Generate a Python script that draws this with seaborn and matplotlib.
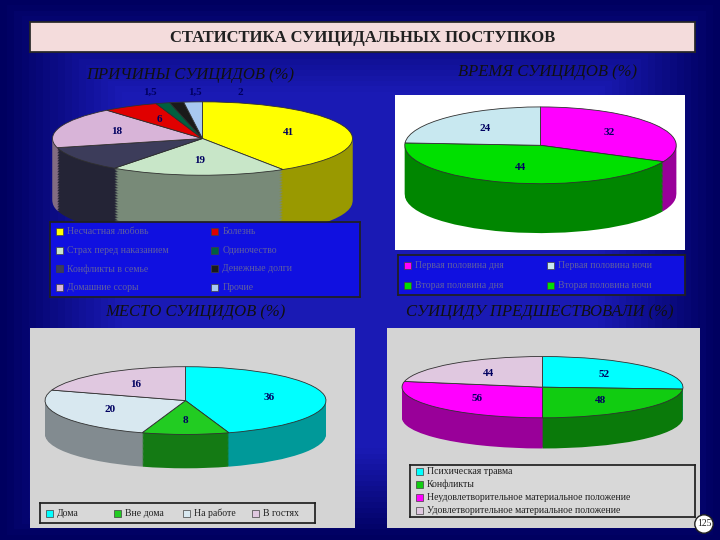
import numpy as np
import matplotlib.pyplot as plt
import seaborn as sns
from matplotlib.patches import Rectangle
import matplotlib.colors as mcolors

sns.set_theme(style="white")
plt.rcParams['font.family'] = ['Liberation Serif', 'DejaVu Serif']

# ---------- data ----------
cause_labels = ["Несчастная любовь", "Страх перед наказанием", "Конфликты в семье",
                "Домашние ссоры", "Болезнь", "Одиночество", "Денежные долги", "Прочие"]
cause_values = [41, 19, 11, 18, 6, 1.5, 1.5, 2]
cause_text = ["41", "19", "", "18", "6", "1,5", "1,5", "2"]
cause_colors = ["#ffff00", "#c8e6c8", "#3c3c5a", "#d8b4d8", "#e00000", "#006040", "#1a1a1a", "#a8c8f0"]

time_labels = ["Первая половина дня", "Вторая половина дня",
               "Первая половина ночи", "Вторая половина ночи"]
time_values = [32, 44, 24]
time_colors = ["#ff00ff", "#00e000", "#c8e8f0"]

place_labels = ["Дома", "Вне дома", "На работе", "В гостях"]
place_values = [36, 8, 20, 16]
place_colors = ["#00ffff", "#22cc22", "#d8e8f0", "#e0c8e0"]

pre_labels = ["Психическая травма", "Конфликты",
              "Неудовлетворительное материальное положение",
              "Удовлетворительное материальное положение"]
pre_values = [52, 48, 56, 44]
pre_colors = ["#00ffff", "#11cc11", "#ff00ff", "#e0c8e0"]

W, H = 720, 540
fig = plt.figure(figsize=(7.2, 5.4), dpi=100)
fig.patch.set_facecolor("#1818b0")


def px_axes(x, y, w, h):
    return fig.add_axes([x / W, 1 - (y + h) / H, w / W, h / H])


# background with darker edges
bg = px_axes(0, 0, W, H)
yy, xx = np.mgrid[0:1:100j, 0:1:100j]
edge = np.minimum(np.minimum(xx, 1 - xx), np.minimum(yy, 1 - yy))
bg.imshow(np.clip(edge * 6, 0, 1), cmap=mcolors.LinearSegmentedColormap.from_list(
    "b", ["#000060", "#1a1ab4"]), extent=[0, 1, 0, 1], aspect="auto")
bg.axis("off")

tb = px_axes(30, 22, 665, 30)
tb.set_facecolor("#f4dcdc")
tb.set_xticks([]); tb.set_yticks([])
tb.text(0.5, 0.45, "СТАТИСТИКА СУИЦИДАЛЬНЫХ ПОСТУПКОВ", ha="center", va="center",
        fontsize=12, fontweight="bold", color="#202020")

for txt, x, y in [("ПРИЧИНЫ СУИЦИДОВ (%)", 190, 75), ("ВРЕМЯ СУИЦИДОВ (%)", 548, 72),
                  ("МЕСТО СУИЦИДОВ (%)", 195, 312), ("СУИЦИДУ ПРЕДШЕСТВОВАЛИ (%)", 540, 312)]:
    fig.text(x / W, 1 - y / H, txt, ha="center", va="center", fontsize=12,
             style="italic", color="#101010")

# marble / white panels
for x, y, w, h, c in [(395, 95, 290, 155, "#ffffff"), (30, 328, 325, 200, "#d4d4d4"),
                      (387, 328, 313, 200, "#d4d4d4")]:
    a = px_axes(x, y, w, h)
    a.set_facecolor(c)
    a.set_xticks([]); a.set_yticks([])
    for s in a.spines.values():
        s.set_visible(False)


def pie3d(rect, values, colors, texts, start, depth=0.35, ratio=0.35, tcolor="#000060"):
    ax = px_axes(*rect)
    dark = [tuple(np.array(mcolors.to_rgb(c)) * 0.6) for c in colors]
    for d in np.linspace(depth, 0.01, 40):
        ax.pie(values, colors=dark, startangle=start, counterclock=False,
               center=(0, -d / ratio), wedgeprops=dict(linewidth=0))
    wedges, _ = ax.pie(values, colors=colors, startangle=start, counterclock=False,
                       wedgeprops=dict(linewidth=0.6, edgecolor="#303030"))
    small = [i for i, v in enumerate(values) if v / sum(values) < 0.03]
    for i, (wd, t) in enumerate(zip(wedges, texts)):
        ang = np.deg2rad((wd.theta1 + wd.theta2) / 2)
        if i in small:
            k = small.index(i)
            ax.text(-0.35 + 0.3 * k, 1.25, t, ha="center", va="center",
                    fontsize=8, fontweight="bold", color=tcolor, clip_on=False)
        else:
            ax.text(0.6 * np.cos(ang), 0.6 * np.sin(ang), t, ha="center", va="center",
                    fontsize=8, fontweight="bold", color=tcolor)
    ax.set_aspect("auto")
    ax.set_xlim(-1.05, 1.05)
    ax.set_ylim(-1.05 - depth / ratio, 1.05)
    ax.axis("off")
    return ax


pie3d((45, 100, 315, 140), cause_values, cause_colors, cause_text, 90, depth=0.6)
pie3d((398, 105, 285, 130), time_values, time_colors, ["32", "44", "24"], 90, depth=0.45)
pie3d((38, 365, 295, 105), place_values, place_colors, ["36", "8", "20", "16"], 90, depth=0.35)
pie3d((395, 355, 295, 95), pre_values, pre_colors, ["52", "48", "56", "44"], 90, depth=0.35)


def legend_box(rect, labels, colors, ncol, fc, tc, fs=7):
    ax = px_axes(*rect)
    ax.set_facecolor(fc)
    ax.set_xticks([]); ax.set_yticks([])
    for s in ax.spines.values():
        s.set_color("#202020")
    nrow = int(np.ceil(len(labels) / ncol))
    sw = 7  # swatch size in pixels
    for i, (lab, c) in enumerate(zip(labels, colors)):
        col, row = i // nrow, i % nrow
        x0 = 0.02 + col / ncol
        y0 = 1 - (row + 0.5) / nrow
        ax.add_patch(Rectangle((x0, y0 - sw / 2 / rect[3]), sw / rect[2], sw / rect[3],
                               facecolor=c, edgecolor="#404040", lw=0.5, transform=ax.transAxes))
        ax.text(x0 + (sw + 4) / rect[2], y0, lab, va="center", fontsize=fs, color=tc,
                transform=ax.transAxes)


legend_box((50, 222, 310, 75), cause_labels, cause_colors, 2, "#1010e0", "#6060a0")
legend_box((398, 255, 287, 40), time_labels, time_colors + ["#00e000"], 2, "#1010e0", "#6060a0")
legend_box((40, 503, 275, 20), place_labels, place_colors, 4, "#d8d8d8", "#202020")
legend_box((410, 465, 285, 52), pre_labels, pre_colors, 1, "#d8d8d8", "#202020")

fig.text(704 / W, 1 - 524 / H, "125", fontsize=7, ha="center", va="center", color="#202020",
         bbox=dict(boxstyle="circle,pad=0.2", fc="white", ec="#202020"))

fig.savefig("out.png", dpi=100)
